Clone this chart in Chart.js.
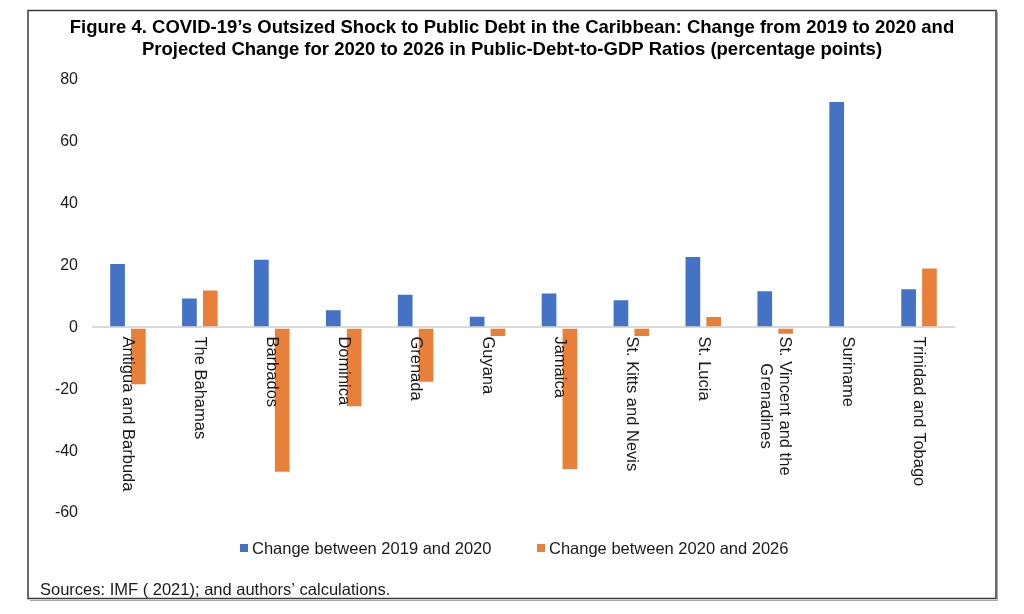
<!DOCTYPE html>
<html>
<head>
<meta charset="utf-8">
<script src="https://cdn.jsdelivr.net/npm/chart.js@4/dist/chart.umd.min.js"></script>
<style>
  html, body { margin: 0; padding: 0; background: #fff; }
  #wrap { width: 1024px; height: 614px; position: relative; }
</style>
</head>
<body>
<div id="wrap"><canvas id="chart"></canvas></div>
<script>
// chart data
const countries = [
  'Antigua and Barbuda', 'The Bahamas', 'Barbados', 'Dominica', 'Grenada', 'Guyana',
  'Jamaica', 'St. Kitts and Nevis', 'St. Lucia', ['St. Vincent and the', 'Grenadines'],
  'Suriname', 'Trinidad and Tobago'
];
const change2019to2020 = [20.8, 9.7, 22.2, 5.9, 10.9, 3.8, 11.3, 9.1, 23.1, 12.0, 73.2, 12.7];
const change2020to2026 = [-18.7, 12.3, -47.0, -25.8, -17.9, -3.1, -46.1, -3.1, 3.7, -2.4, 0, 19.4];
const yTicks = [80, 60, 40, 20, 0, -20, -40, -60];

const titleLines = [
  'Figure 4. COVID-19\u2019s Outsized Shock to Public Debt in the Caribbean: Change from 2019 to 2020 and',
  'Projected Change for 2020 to 2026 in Public-Debt-to-GDP Ratios (percentage points)'
];
const sourceNote = 'Sources: IMF ( 2021); and authors\u2019 calculations.';

const C = {
  blue  : '#4472C4',
  orange: '#E8803A',
  zero  : '#d9d9d9',
  text  : '#1a1a1a',
  frame : '#3a3a3a'
};
const FONT = '"Liberation Sans", Arial, sans-serif';

// frame, title, category labels, legend, source line
const decor = {
  id: 'decor',
  beforeDraw(chart) {
    const ctx = chart.ctx;
    ctx.save();
    ctx.fillStyle = '#fff';
    ctx.fillRect(0, 0, chart.width, chart.height);
    ctx.restore();
  },
  afterDatasetsDraw(chart) {
    const ctx = chart.ctx;
    const xs = chart.scales.x, ys = chart.scales.y;
    const y0 = ys.getPixelForValue(0) + 9;
    ctx.save();
    ctx.fillStyle = C.text;
    ctx.font = '16.5px ' + FONT;
    countries.forEach(function(lab, i) {
      const lines = Array.isArray(lab) ? lab : [lab];
      const x = xs.getPixelForValue(i);
      const maxW = Math.max.apply(null, lines.map(l => ctx.measureText(l).width));
      ctx.save();
      ctx.translate(x, y0);
      ctx.rotate(Math.PI / 2);
      ctx.textAlign = 'center';
      ctx.textBaseline = 'middle';
      lines.forEach(function(l, k) {
        ctx.fillText(l, maxW / 2, (k - (lines.length - 1) / 2) * 19);
      });
      ctx.restore();
    });
    ctx.restore();
  },
  afterDraw(chart) {
    const ctx = chart.ctx;
    ctx.save();
    // frame
    ctx.strokeStyle = C.frame;
    ctx.lineWidth = 1.5;
    ctx.strokeRect(28, 10.5, 968, 588);
    ctx.strokeStyle = 'rgba(0,0,0,0.35)';
    ctx.lineWidth = 1;
    ctx.beginPath();
    ctx.moveTo(997.5, 12); ctx.lineTo(997.5, 600.5); ctx.lineTo(30, 600.5);
    ctx.stroke();

    // title
    ctx.fillStyle = '#000';
    ctx.font = 'bold 18.5px ' + FONT;
    ctx.textAlign = 'center';
    ctx.textBaseline = 'middle';
    ctx.fillText(titleLines[0], 512, 28, 890);
    ctx.fillText(titleLines[1], 512, 50, 890);

    // legend
    ctx.font = '16.5px ' + FONT;
    ctx.textAlign = 'left';
    const items = [
      { x: 240, label: chart.data.datasets[0].label, color: C.blue },
      { x: 537, label: chart.data.datasets[1].label, color: C.orange }
    ];
    items.forEach(function(it) {
      ctx.fillStyle = it.color;
      ctx.fillRect(it.x, 544, 8, 8);
      ctx.fillStyle = C.text;
      ctx.fillText(it.label, it.x + 12, 549);
    });

    // source
    ctx.fillText(sourceNote, 40, 590);
    ctx.restore();
  }
};

new Chart(document.getElementById('chart').getContext('2d'), {
  type: 'bar',
  data: {
    labels: countries,
    datasets: [
      {
        label          : 'Change between 2019 and 2020',
        data           : change2019to2020,
        backgroundColor: C.blue,
        borderColor    : 'rgba(255,255,255,0.3)',
        borderWidth    : 1
      },
      {
        label          : 'Change between 2020 and 2026',
        data           : change2020to2026,
        backgroundColor: C.orange,
        borderColor    : 'rgba(255,255,255,0.3)',
        borderWidth    : 1
      }
    ]
  },
  options: {
    responsive         : true,
    maintainAspectRatio: false,
    animation          : false,
    datasets: { bar: { categoryPercentage: 0.58, barPercentage: 0.8 } },
    layout: { padding: { left: 28, right: 69, top: 80, bottom: 101 } },
    plugins: {
      legend : { display: false },
      title  : { display: false },
      tooltip: { enabled: false }
    },
    scales: {
      x: { display: false },
      y: {
        min: -60,
        max: 80,
        afterFit: function(s) { s.width = 64; },
        afterBuildTicks: function(s) { s.ticks = yTicks.map(v => ({ value: v })); },
        border: { display: false },
        grid: {
          drawTicks: false,
          lineWidth: 2,
          color: function(c) { return c.tick && c.tick.value === 0 ? C.zero : 'rgba(0,0,0,0)'; }
        },
        ticks: {
          padding: 14,
          color  : C.text,
          font   : { family: FONT, size: 16 }
        }
      }
    }
  },
  plugins: [decor]
});
</script>
</body>
</html>
